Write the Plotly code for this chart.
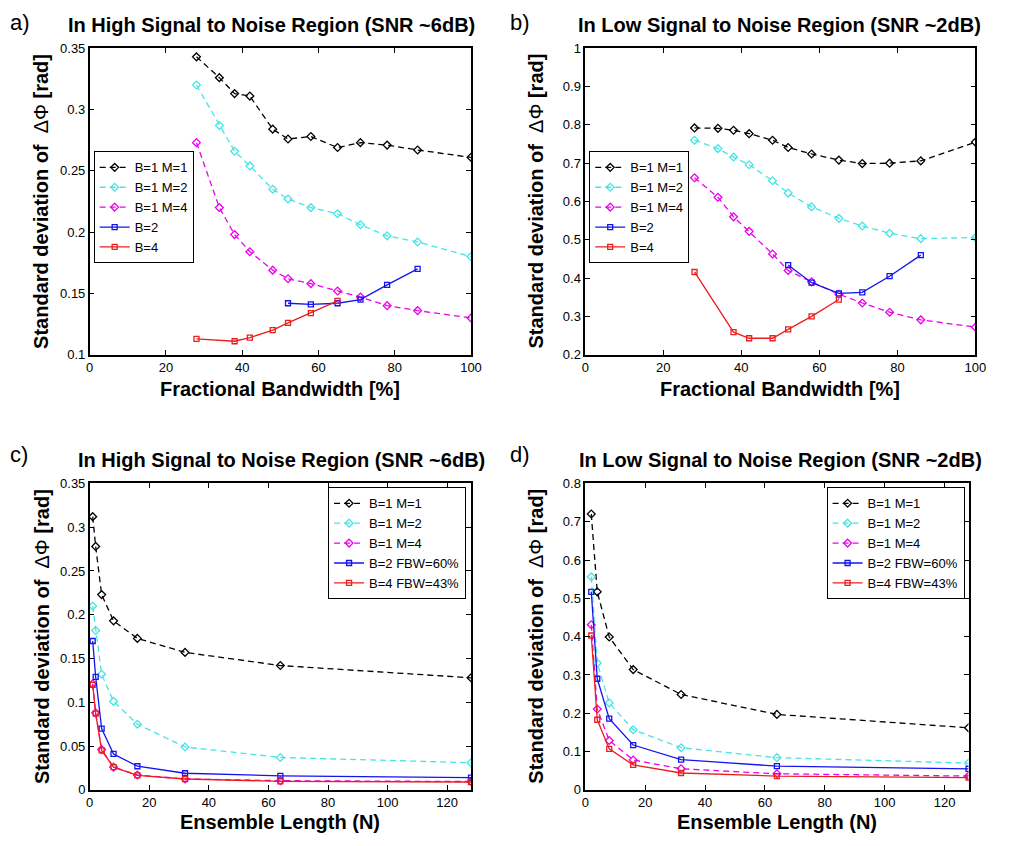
import plotly.graph_objects as go

W, H = 1015, 846

# ---------------- data ----------------
# Panels a/b : fractional bandwidth [%]
fbw_x = [28, 34, 38, 42, 48, 52, 58, 65, 71, 78, 86, 100]
fbw_x_b2 = [52, 58, 65, 71, 78, 86]
fbw_x_b4 = [28, 38, 42, 48, 52, 58, 65]

a_b1m1 = [0.343, 0.326, 0.313, 0.311, 0.284, 0.276, 0.278, 0.269, 0.273, 0.271, 0.267, 0.261]
a_b1m2 = [0.320, 0.287, 0.266, 0.254, 0.235, 0.227, 0.220, 0.215, 0.206, 0.197, 0.192, 0.180]
a_b1m4 = [0.273, 0.220, 0.198, 0.184, 0.169, 0.162, 0.158, 0.152, 0.147, 0.140, 0.136, 0.130]
a_b2 = [0.142, 0.141, 0.142, 0.145, 0.157, 0.170]
a_b4 = [0.113, 0.111, 0.114, 0.120, 0.126, 0.134, 0.144]

b_b1m1 = [0.792, 0.791, 0.786, 0.777, 0.760, 0.741, 0.724, 0.708, 0.699, 0.700, 0.706, 0.755]
b_b1m2 = [0.760, 0.738, 0.716, 0.696, 0.654, 0.622, 0.586, 0.556, 0.536, 0.517, 0.503, 0.506]
b_b1m4 = [0.662, 0.611, 0.560, 0.522, 0.463, 0.420, 0.390, 0.358, 0.335, 0.311, 0.291, 0.272]
b_b2 = [0.434, 0.388, 0.360, 0.363, 0.405, 0.460]
b_b4 = [0.416, 0.259, 0.243, 0.243, 0.266, 0.300, 0.344]

# Panels c/d : ensemble length N
ens_c = [1, 2, 4, 8, 16, 32, 64, 128]
ens_d = [2, 4, 8, 16, 32, 64, 128]

c_b1m1 = [0.312, 0.278, 0.223, 0.193, 0.173, 0.157, 0.142, 0.128]
c_b1m2 = [0.210, 0.182, 0.132, 0.101, 0.075, 0.049, 0.037, 0.031]
c_b1m4 = [0.121, 0.088, 0.046, 0.026, 0.017, 0.0125, 0.0105, 0.0095]
c_b2 = [0.170, 0.129, 0.070, 0.041, 0.027, 0.019, 0.016, 0.014]
c_b4 = [0.120, 0.087, 0.045, 0.026, 0.0165, 0.0124, 0.0097, 0.009]

d_b1m1 = [0.720, 0.517, 0.399, 0.314, 0.249, 0.197, 0.162]
d_b1m2 = [0.556, 0.331, 0.227, 0.157, 0.110, 0.084, 0.070]
d_b1m4 = [0.431, 0.211, 0.129, 0.078, 0.055, 0.042, 0.036]
d_b2 = [0.517, 0.290, 0.186, 0.117, 0.079, 0.062, 0.055]
d_b4 = [0.403, 0.183, 0.107, 0.065, 0.044, 0.036, 0.032]

names_top = ["B=1 M=1", "B=1 M=2", "B=1 M=4", "B=2", "B=4"]
names_bot = ["B=1 M=1", "B=1 M=2", "B=1 M=4", "B=2 FBW=60%", "B=4 FBW=43%"]

titles = ["In High Signal to Noise Region (SNR ~6dB)",
          "In Low Signal to Noise Region (SNR ~2dB)",
          "In High Signal to Noise Region (SNR ~6dB)",
          "In Low Signal to Noise Region (SNR ~2dB)"]
panel_labels = ["a)", "b)", "c)", "d)"]
xtitles = ["Fractional Bandwidth [%]", "Fractional Bandwidth [%]",
           "Ensemble Length (N)", "Ensemble Length (N)"]

x_ticks_fbw = [0, 20, 40, 60, 80, 100]
x_ticks_ens = [0, 20, 40, 60, 80, 100, 120]
y_ticks_a = [0.1, 0.15, 0.2, 0.25, 0.3, 0.35]
y_text_a = ["0.1", "0.15", "0.2", "0.25", "0.3", "0.35"]
y_ticks_b = [0.2, 0.3, 0.4, 0.5, 0.6, 0.7, 0.8, 0.9, 1.0]
y_text_b = ["0.2", "0.3", "0.4", "0.5", "0.6", "0.7", "0.8", "0.9", "1"]
y_ticks_c = [0, 0.05, 0.1, 0.15, 0.2, 0.25, 0.3, 0.35]
y_text_c = ["0", "0.05", "0.1", "0.15", "0.2", "0.25", "0.3", "0.35"]
y_ticks_d = [0, 0.1, 0.2, 0.3, 0.4, 0.5, 0.6, 0.7, 0.8]
y_text_d = ["0", "0.1", "0.2", "0.3", "0.4", "0.5", "0.6", "0.7", "0.8"]

# ---------------- styles ----------------
FONT = "Liberation Sans, Arial, Helvetica, sans-serif"
colors = ["black", "rgb(70,228,228)", "rgb(235,0,235)", "rgb(20,20,240)", "rgb(235,30,30)"]
dashes = ["6px,4px", "6px,4px", "6px,4px", "solid", "solid"]
symbols = ["diamond-open", "diamond-open", "diamond-open", "square-open", "square-open"]
msize = [6, 6, 6, 5, 5]


def px_x(p):
    return p / W


def px_y(p):
    return 1 - p / H


fig = go.Figure()

panels = [
    dict(xs=[fbw_x, fbw_x, fbw_x, fbw_x_b2, fbw_x_b4], ys=[a_b1m1, a_b1m2, a_b1m4, a_b2, a_b4], names=names_top),
    dict(xs=[fbw_x, fbw_x, fbw_x, fbw_x_b2, fbw_x_b4], ys=[b_b1m1, b_b1m2, b_b1m4, b_b2, b_b4], names=names_top),
    dict(xs=[ens_c] * 5, ys=[c_b1m1, c_b1m2, c_b1m4, c_b2, c_b4], names=names_bot),
    dict(xs=[ens_d] * 5, ys=[d_b1m1, d_b1m2, d_b1m4, d_b2, d_b4], names=names_bot),
]

for i, p in enumerate(panels):
    sfx = "" if i == 0 else str(i + 1)
    for k in range(5):
        fig.add_trace(go.Scatter(
            x=p["xs"][k], y=p["ys"][k], name=p["names"][k], mode="lines+markers",
            line=dict(color=colors[k], width=1.3, dash=dashes[k]),
            marker=dict(symbol=symbols[k], size=msize[k], color=colors[k], line=dict(width=1.3, color=colors[k])),
            xaxis="x" + sfx, yaxis="y" + sfx, legend="legend" + sfx,
        ))

# pixel boxes of the plot areas (left, right, top, bottom)
boxes = [(87, 474, 42, 354), (590, 986, 42, 354), (87, 474, 485, 797), (590, 979, 485, 797)]
xranges = [[0, 100], [0, 100], [0, 128], [0, 128]]
yranges = [[0.1, 0.35], [0.2, 1.0], [0, 0.35], [0, 0.8]]
xtv = [x_ticks_fbw, x_ticks_fbw, x_ticks_ens, x_ticks_ens]
ytv = [y_ticks_a, y_ticks_b, y_ticks_c, y_ticks_d]
ytt = [y_text_a, y_text_b, y_text_c, y_text_d]

layout = dict(width=W, height=H, margin=dict(l=0, r=0, t=0, b=0),
              paper_bgcolor="white", plot_bgcolor="white",
              font=dict(family=FONT, color="black"))

for i, (l, r, t, b) in enumerate(boxes):
    sfx = "" if i == 0 else str(i + 1)
    axcommon = dict(showline=True, linecolor="black", linewidth=1.5, mirror="ticks",
                    ticks="inside", ticklen=5, tickwidth=1, tickcolor="black",
                    showgrid=False, zeroline=False, tickfont=dict(size=13, family=FONT))
    layout["xaxis" + sfx] = dict(domain=[px_x(l), px_x(r)], range=xranges[i], anchor="y" + sfx,
                                 tickvals=xtv[i], ticktext=[str(v) for v in xtv[i]], **axcommon)
    layout["yaxis" + sfx] = dict(domain=[px_y(b), px_y(t)], range=yranges[i], anchor="x" + sfx,
                                 tickvals=ytv[i], ticktext=ytt[i], **axcommon)

legend_common = dict(bgcolor="white", bordercolor="black", borderwidth=1,
                     font=dict(size=13, family=FONT), tracegroupgap=0, itemwidth=30)
layout["legend"] = dict(x=px_x(91), y=px_y(147), xanchor="left", yanchor="top", **legend_common)
layout["legend2"] = dict(x=px_x(594), y=px_y(147), xanchor="left", yanchor="top", **legend_common)
layout["legend3"] = dict(x=px_x(469), y=px_y(489), xanchor="right", yanchor="top", **legend_common)
layout["legend4"] = dict(x=px_x(975), y=px_y(489), xanchor="right", yanchor="top", **legend_common)

annotations = []
title_pos = [(272, 18), (787, 18), (282, 461), (788, 461)]
label_pos = [(4, 16), (512, 16), (4, 456), (512, 456)]
ytitle_x = [38, 540, 38, 540]
xtitle_y = [389, 389, 830, 830]
for i, (l, r, t, b) in enumerate(boxes):
    tx, ty = title_pos[i]
    annotations.append(dict(text="<b>" + titles[i] + "</b>", x=px_x(tx), y=px_y(ty), xref="paper", yref="paper",
                            showarrow=False, xanchor="center", yanchor="middle", font=dict(size=20, family=FONT)))
    lx, ly = label_pos[i]
    annotations.append(dict(text=panel_labels[i], x=px_x(lx), y=px_y(ly), xref="paper", yref="paper",
                            showarrow=False, xanchor="left", yanchor="middle", font=dict(size=22, family=FONT)))
    annotations.append(dict(text="<b>Standard deviation of</b>  ΔΦ <b>[rad]</b>", x=px_x(ytitle_x[i]),
                            y=px_y((t + b) / 2), xref="paper", yref="paper", textangle=-90,
                            showarrow=False, xanchor="center", yanchor="middle", font=dict(size=20, family=FONT)))
    annotations.append(dict(text="<b>" + xtitles[i] + "</b>", x=px_x((l + r) / 2), y=px_y(xtitle_y[i]),
                            xref="paper", yref="paper", showarrow=False, xanchor="center", yanchor="middle",
                            font=dict(size=20, family=FONT)))
layout["annotations"] = annotations

fig.update_layout(**layout)
fig.write_html("out.html")
